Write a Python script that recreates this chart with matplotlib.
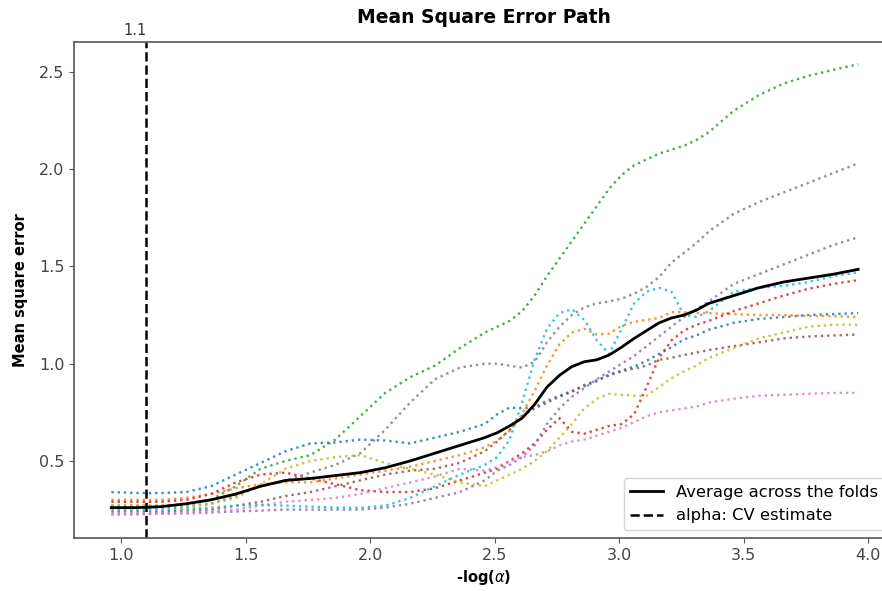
import numpy as np
import matplotlib
matplotlib.use('Agg')
import matplotlib.pyplot as plt
import matplotlib.transforms as mtransforms

# -log(alpha) grid of the path
neg_log_alpha = [0.96, 1.06, 1.16, 1.26, 1.36, 1.46, 1.56, 1.66, 1.76, 1.86,
                 1.96, 2.06, 2.16, 2.26, 2.36, 2.46, 2.51, 2.56, 2.61, 2.66,
                 2.71, 2.76, 2.81, 2.86, 2.91, 2.96, 3.01, 3.06, 3.11, 3.16,
                 3.21, 3.26, 3.31, 3.36, 3.46, 3.56, 3.66, 3.76, 3.86, 3.96]

# mean square error per fold
fold_0 = [0.34, 0.335, 0.335, 0.34, 0.37, 0.43, 0.49, 0.55, 0.59, 0.595,
          0.61, 0.605, 0.59, 0.62, 0.65, 0.69, 0.74, 0.775, 0.77, 0.775,
          0.81, 0.835, 0.86, 0.885, 0.91, 0.945, 0.965, 0.985, 1.015, 1.05,
          1.085, 1.125, 1.145, 1.175, 1.21, 1.23, 1.24, 1.25, 1.255, 1.26]
fold_1 = [0.30, 0.30, 0.30, 0.31, 0.33, 0.36, 0.38, 0.39, 0.39, 0.41,
          0.43, 0.45, 0.47, 0.50, 0.53, 0.57, 0.605, 0.655, 0.74, 0.86,
          0.99, 1.10, 1.16, 1.18, 1.15, 1.155, 1.195, 1.215, 1.225, 1.235,
          1.265, 1.265, 1.26, 1.26, 1.255, 1.25, 1.25, 1.245, 1.245, 1.24]
fold_2 = [0.27, 0.27, 0.27, 0.275, 0.30, 0.37, 0.46, 0.50, 0.53, 0.61,
          0.73, 0.85, 0.93, 0.99, 1.08, 1.16, 1.19, 1.22, 1.27, 1.35,
          1.45, 1.54, 1.63, 1.72, 1.81, 1.90, 1.97, 2.02, 2.05, 2.08,
          2.10, 2.12, 2.15, 2.19, 2.30, 2.38, 2.44, 2.48, 2.51, 2.54]
fold_3 = [0.29, 0.29, 0.29, 0.30, 0.33, 0.39, 0.43, 0.44, 0.41, 0.38,
          0.35, 0.34, 0.34, 0.36, 0.40, 0.44, 0.46, 0.50, 0.54, 0.59,
          0.66, 0.72, 0.65, 0.64, 0.66, 0.68, 0.69, 0.74, 0.88, 1.03,
          1.12, 1.17, 1.20, 1.22, 1.27, 1.31, 1.35, 1.385, 1.41, 1.43]
fold_4 = [0.225, 0.225, 0.23, 0.23, 0.235, 0.24, 0.245, 0.25, 0.25, 0.25,
          0.25, 0.26, 0.28, 0.31, 0.34, 0.40, 0.45, 0.48, 0.52, 0.58,
          0.69, 0.77, 0.83, 0.875, 0.92, 0.96, 1.00, 1.04, 1.09, 1.14,
          1.19, 1.24, 1.28, 1.32, 1.41, 1.46, 1.51, 1.56, 1.61, 1.65]
fold_5 = [0.24, 0.24, 0.24, 0.245, 0.25, 0.27, 0.29, 0.32, 0.34, 0.37,
          0.40, 0.43, 0.45, 0.46, 0.49, 0.55, 0.60, 0.66, 0.73, 0.77,
          0.80, 0.83, 0.855, 0.89, 0.915, 0.94, 0.96, 0.975, 0.99, 1.02,
          1.03, 1.045, 1.057, 1.07, 1.09, 1.11, 1.13, 1.14, 1.145, 1.15]
fold_6 = [0.23, 0.23, 0.23, 0.235, 0.24, 0.25, 0.27, 0.29, 0.30, 0.31,
          0.33, 0.36, 0.39, 0.42, 0.46, 0.45, 0.47, 0.50, 0.52, 0.53,
          0.55, 0.58, 0.60, 0.61, 0.63, 0.65, 0.67, 0.70, 0.73, 0.75,
          0.76, 0.77, 0.78, 0.80, 0.82, 0.835, 0.84, 0.845, 0.85, 0.85]
fold_7 = [0.26, 0.26, 0.26, 0.265, 0.28, 0.32, 0.37, 0.40, 0.44, 0.48,
          0.54, 0.66, 0.80, 0.92, 0.98, 1.00, 1.00, 0.99, 0.98, 1.01,
          1.11, 1.19, 1.25, 1.29, 1.31, 1.32, 1.335, 1.36, 1.395, 1.445,
          1.52, 1.57, 1.62, 1.68, 1.77, 1.83, 1.88, 1.93, 1.98, 2.03]
fold_8 = [0.27, 0.27, 0.27, 0.27, 0.28, 0.31, 0.38, 0.46, 0.50, 0.52,
          0.53, 0.49, 0.46, 0.43, 0.39, 0.37, 0.40, 0.43, 0.46, 0.50,
          0.55, 0.62, 0.69, 0.77, 0.82, 0.845, 0.84, 0.835, 0.835, 0.88,
          0.925, 0.96, 0.99, 1.03, 1.08, 1.13, 1.16, 1.19, 1.20, 1.20]
fold_9 = [0.25, 0.25, 0.25, 0.255, 0.26, 0.27, 0.275, 0.27, 0.265, 0.26,
          0.26, 0.27, 0.31, 0.37, 0.43, 0.48, 0.52, 0.61, 0.80, 1.02,
          1.18, 1.26, 1.28, 1.225, 1.12, 1.05, 1.18, 1.31, 1.37, 1.39,
          1.37, 1.25, 1.24, 1.27, 1.37, 1.39, 1.40, 1.42, 1.45, 1.47]
folds = [fold_0, fold_1, fold_2, fold_3, fold_4,
         fold_5, fold_6, fold_7, fold_8, fold_9]

# average across the folds
mse_mean = [0.26, 0.26, 0.265, 0.28, 0.30, 0.33, 0.37, 0.40, 0.41, 0.425,
            0.44, 0.465, 0.50, 0.54, 0.58, 0.62, 0.645, 0.68, 0.72, 0.79,
            0.88, 0.94, 0.985, 1.01, 1.02, 1.045, 1.085, 1.13, 1.17, 1.21,
            1.235, 1.25, 1.275, 1.31, 1.35, 1.39, 1.42, 1.44, 1.46, 1.485]

# alpha chosen by cross validation
cv_alpha = 1.1
cv_label = '1.1'

#%% plot
fig = plt.figure(figsize=(8.82, 5.91), dpi=100)
ax = fig.add_axes([0.0839, 0.0897, 0.9286, 0.8393])

# one dotted line per fold
for i, fold in enumerate(folds):
    ax.plot(neg_log_alpha, fold, linestyle=':', linewidth=1.7, color='C%d' % i, alpha=0.85)

ax.plot(neg_log_alpha, mse_mean, color='k', linewidth=2,
        label='Average across the folds')
ax.axvline(cv_alpha, color='k', linestyle='--', linewidth=1.8,
           label='alpha: CV estimate')

ax.set_xlim(0.81, 4.10)
ax.set_ylim(0.104, 2.654)
ax.set_xticks([1.0, 1.5, 2.0, 2.5, 3.0, 3.5, 4.0])
ax.set_yticks([0.5, 1.0, 1.5, 2.0, 2.5])

# label of the chosen alpha above the axes
trans = mtransforms.blended_transform_factory(ax.transData, ax.transAxes)
ax.text(cv_alpha, 1.008, cv_label, transform=trans, ha='right', va='bottom',
        fontsize=10.5, color='#333333')

ax.set_title('Mean Square Error Path', fontsize=13.5, fontweight='bold', pad=14)
ax.set_xlabel(r'-log($\alpha$)', fontsize=10.5, fontweight='bold')
ax.set_ylabel('Mean square error', fontsize=10.5, fontweight='bold', labelpad=8)

for spine in ax.spines.values():
    spine.set_color('#555555')
    spine.set_linewidth(1.2)
ax.tick_params(colors='#555555', labelsize=11.5, labelcolor='#444444')

ax.legend(loc='lower right', fontsize=11.8)

fig.savefig('out.png', dpi=100)
